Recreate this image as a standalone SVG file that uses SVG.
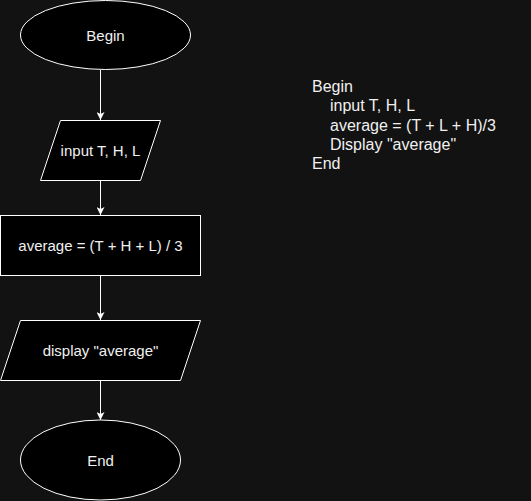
<svg xmlns="http://www.w3.org/2000/svg" width="531" height="501" viewBox="0 0 531 501">
<style>
.shape{fill:#000;stroke:#fff;stroke-width:1}
.lbl{font-family:"Liberation Sans",Arial,sans-serif;font-size:15px;fill:#f0f0f0;text-anchor:middle}
.code{font-family:"Liberation Sans",Arial,sans-serif;font-size:16px;fill:#f0f0f0}
.edge{stroke:#fff;stroke-width:1;fill:none}
</style>
<defs>
<marker id="arr" markerWidth="8" markerHeight="8" refX="8" refY="4" orient="auto" markerUnits="userSpaceOnUse">
<path d="M0,0 L8,4 L0,8 L2,4 Z" fill="#fff"/>
</marker>
</defs>
<rect width="531" height="501" fill="#121212"/>
<g id="connectors">
<line class="edge" x1="100.5" y1="70" x2="100.5" y2="120" marker-end="url(#arr)"/>
<line class="edge" x1="100.5" y1="180" x2="100.5" y2="215" marker-end="url(#arr)"/>
<line class="edge" x1="100.5" y1="275" x2="100.5" y2="320" marker-end="url(#arr)"/>
<line class="edge" x1="100.5" y1="380" x2="100.5" y2="420" marker-end="url(#arr)"/>
</g>
<g id="begin">
<ellipse class="shape" cx="105.5" cy="35" rx="85" ry="34.5"/>
<text class="lbl" x="105.5" y="40.5">Begin</text>
</g>
<g id="input">
<polygon class="shape" points="60.5,120.5 160.5,120.5 140.5,180.5 40.5,180.5"/>
<text class="lbl" x="100.5" y="155.5">input T, H, L</text>
</g>
<g id="compute">
<rect class="shape" x="0.5" y="215.5" width="200" height="60"/>
<text class="lbl" x="100.5" y="250.5">average = (T + H + L) / 3</text>
</g>
<g id="display">
<polygon class="shape" points="20.5,320.5 200.5,320.5 180.5,380.5 0.5,380.5"/>
<text class="lbl" x="100.5" y="355.5">display "average"</text>
</g>
<g id="end">
<ellipse class="shape" cx="100.5" cy="460" rx="80" ry="40"/>
<text class="lbl" x="100.5" y="466">End</text>
</g>
<g id="pseudocode">
<text class="code" x="312" y="92">Begin</text>
<text class="code" x="330" y="111">input T, H, L</text>
<text class="code" x="330" y="130.5">average = (T + L + H)/3</text>
<text class="code" x="330" y="149.5">Display "average"</text>
<text class="code" x="312" y="168.5">End</text>
</g>
</svg>
